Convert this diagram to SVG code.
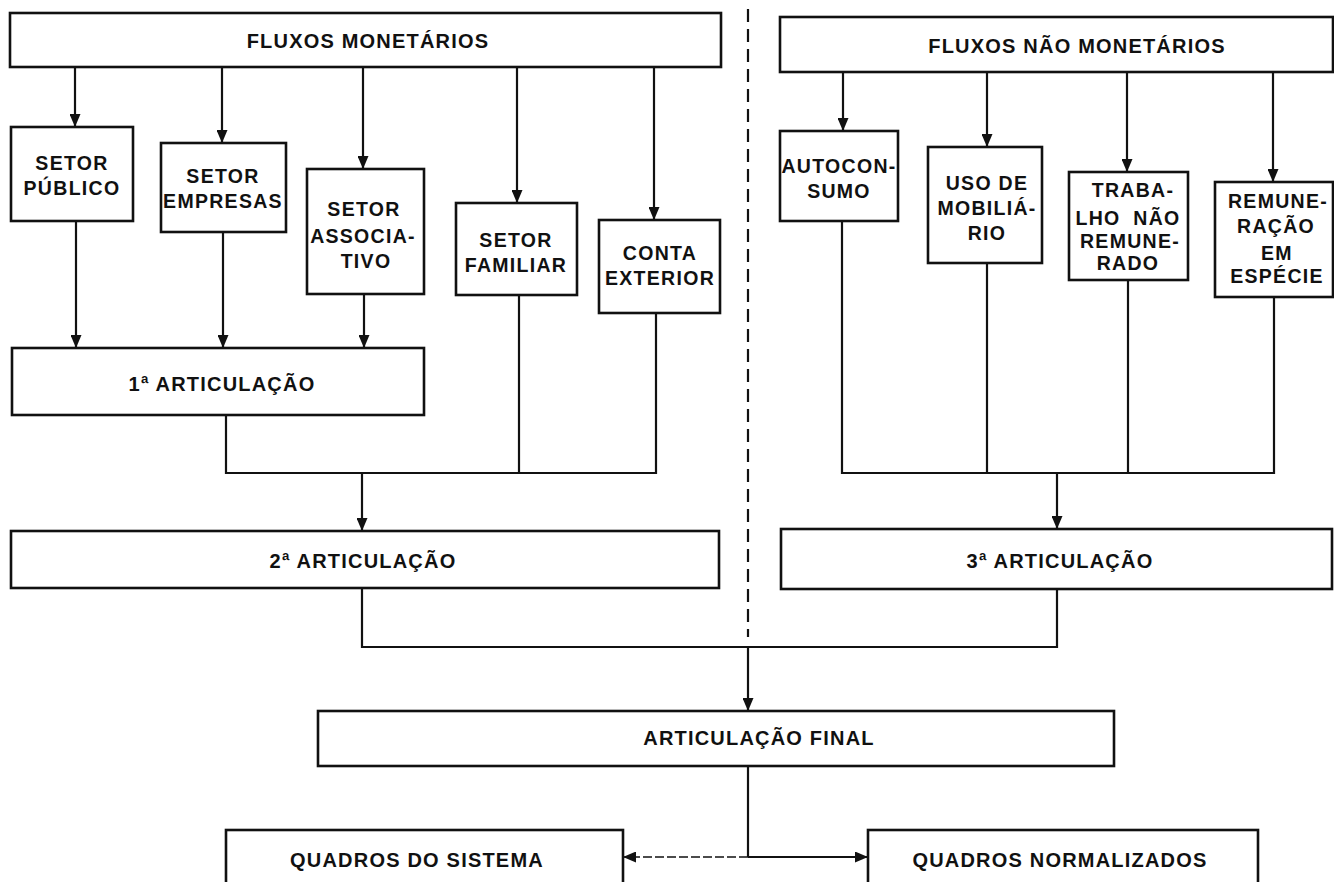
<svg xmlns="http://www.w3.org/2000/svg" width="1334" height="882" viewBox="0 0 1334 882">
<style>
.box{fill:#fff;stroke:#111;stroke-width:2.6}
.lbl{font-family:"Liberation Sans",Arial,Helvetica,sans-serif;font-weight:bold;fill:#111;text-anchor:middle}
.big{font-size:20px;letter-spacing:1.2px}
.sm{font-size:19.5px;letter-spacing:1.3px}
.ln{fill:none;stroke:#111;stroke-width:2.2}
.arr{marker-end:url(#ah)}
.sep{fill:none;stroke:#111;stroke-width:2.2;stroke-dasharray:13 7}
</style>
<defs>
<marker id="ah" markerUnits="userSpaceOnUse" markerWidth="13" markerHeight="11" refX="13" refY="5.5" orient="auto" viewBox="0 0 13 11">
<path d="M0,0 L13,5.5 L0,11 z" fill="#111"/>
</marker>
</defs>
<rect width="1334" height="882" fill="#fff"/>

<g id="connectors">
<line class="sep" x1="748" y1="9" x2="748" y2="637"/>
<line class="ln arr" x1="75" y1="67" x2="75" y2="127"/>
<line class="ln arr" x1="222" y1="67" x2="222" y2="143"/>
<line class="ln arr" x1="363" y1="67" x2="363" y2="169"/>
<line class="ln arr" x1="517" y1="67" x2="517" y2="203"/>
<line class="ln arr" x1="654" y1="67" x2="654" y2="220"/>
<line class="ln arr" x1="76" y1="221" x2="76" y2="348"/>
<line class="ln arr" x1="223" y1="232" x2="223" y2="348"/>
<line class="ln arr" x1="364" y1="294" x2="364" y2="348"/>
<polyline class="ln" points="226,415 226,473 656,473 656,313"/>
<line class="ln" x1="519" y1="295" x2="519" y2="473"/>
<line class="ln arr" x1="362" y1="473" x2="362" y2="531"/>
<line class="ln arr" x1="843" y1="72" x2="843" y2="131"/>
<line class="ln arr" x1="987" y1="72" x2="987" y2="147"/>
<line class="ln arr" x1="1127" y1="72" x2="1127" y2="172"/>
<line class="ln arr" x1="1273" y1="72" x2="1273" y2="182"/>
<polyline class="ln" points="842,221 842,473 1274,473 1274,297"/>
<line class="ln" x1="987" y1="263" x2="987" y2="473"/>
<line class="ln" x1="1128" y1="280" x2="1128" y2="473"/>
<line class="ln arr" x1="1057" y1="473" x2="1057" y2="529"/>
<polyline class="ln" points="362,588 362,647 1057,647 1057,589"/>
<line class="ln arr" x1="748" y1="647" x2="748" y2="711"/>
<line class="ln" x1="748" y1="766" x2="748" y2="857"/>
<line class="ln arr" x1="748" y1="857" x2="868" y2="857"/>
<line class="ln arr" x1="748" y1="857" x2="623" y2="857" style="stroke-width:1.6;stroke-dasharray:9 3"/>
</g>

<g id="fluxos-monetarios">
<rect class="box" x="10" y="13" width="711" height="54"/>
<text class="lbl big" x="368" y="48">FLUXOS MONETÁRIOS</text>
</g>
<g id="fluxos-nao-monetarios">
<rect class="box" x="780" y="17" width="553" height="55"/>
<text class="lbl big" x="1077" y="53">FLUXOS NÃO MONETÁRIOS</text>
</g>

<g id="setor-publico">
<rect class="box" x="11" y="127" width="122" height="94"/>
<text class="lbl sm"><tspan x="72" y="170">SETOR</tspan><tspan x="72" y="195">PÚBLICO</tspan></text>
</g>
<g id="setor-empresas">
<rect class="box" x="161" y="143" width="125" height="89"/>
<text class="lbl sm"><tspan x="223" y="183">SETOR</tspan><tspan x="223" y="208">EMPRESAS</tspan></text>
</g>
<g id="setor-associativo">
<rect class="box" x="307" y="169" width="117" height="125"/>
<text class="lbl sm"><tspan x="364" y="216">SETOR</tspan><tspan x="363" y="243">ASSOCIA-</tspan><tspan x="366" y="268">TIVO</tspan></text>
</g>
<g id="setor-familiar">
<rect class="box" x="456" y="203" width="121" height="92"/>
<text class="lbl sm"><tspan x="516" y="247">SETOR</tspan><tspan x="516" y="272">FAMILIAR</tspan></text>
</g>
<g id="conta-exterior">
<rect class="box" x="599" y="220" width="121" height="93"/>
<text class="lbl sm"><tspan x="660" y="260">CONTA</tspan><tspan x="660" y="285">EXTERIOR</tspan></text>
</g>

<g id="autoconsumo">
<rect class="box" x="780" y="131" width="118" height="90"/>
<text class="lbl sm"><tspan x="839" y="173">AUTOCON-</tspan><tspan x="839" y="198">SUMO</tspan></text>
</g>
<g id="uso-mobiliario">
<rect class="box" x="928" y="147" width="114" height="116"/>
<text class="lbl sm"><tspan x="987" y="190">USO DE</tspan><tspan x="987" y="215">MOBILIÁ-</tspan><tspan x="987" y="240">RIO</tspan></text>
</g>
<g id="trabalho-nao-remunerado">
<rect class="box" x="1069" y="172" width="119" height="108"/>
<text class="lbl sm"><tspan x="1133" y="197">TRABA-</tspan><tspan x="1128" y="225" style="word-spacing:6px">LHO NÃO</tspan><tspan x="1130" y="248">REMUNE-</tspan><tspan x="1128" y="270">RADO</tspan></text>
</g>
<g id="remuneracao-especie">
<rect class="box" x="1215" y="182" width="118" height="115"/>
<text class="lbl sm"><tspan x="1278" y="208">REMUNE-</tspan><tspan x="1276" y="233">RAÇÃO</tspan><tspan x="1277" y="260">EM</tspan><tspan x="1277" y="283">ESPÉCIE</tspan></text>
</g>

<g id="articulacao-1">
<rect class="box" x="12" y="348" width="412" height="67"/>
<text class="lbl big" x="222" y="391">1ª ARTICULAÇÃO</text>
</g>
<g id="articulacao-2">
<rect class="box" x="11" y="531" width="708" height="57"/>
<text class="lbl big" x="363" y="568">2ª ARTICULAÇÃO</text>
</g>
<g id="articulacao-3">
<rect class="box" x="781" y="529" width="551" height="60"/>
<text class="lbl big" x="1060" y="568">3ª ARTICULAÇÃO</text>
</g>
<g id="articulacao-final">
<rect class="box" x="318" y="711" width="796" height="55"/>
<text class="lbl big" x="759" y="745">ARTICULAÇÃO FINAL</text>
</g>
<g id="quadros-sistema">
<rect class="box" x="226" y="830" width="397" height="80"/>
<text class="lbl big" x="417" y="867">QUADROS DO SISTEMA</text>
</g>
<g id="quadros-normalizados">
<rect class="box" x="868" y="830" width="390" height="80"/>
<text class="lbl big" x="1060" y="867">QUADROS NORMALIZADOS</text>
</g>
</svg>
